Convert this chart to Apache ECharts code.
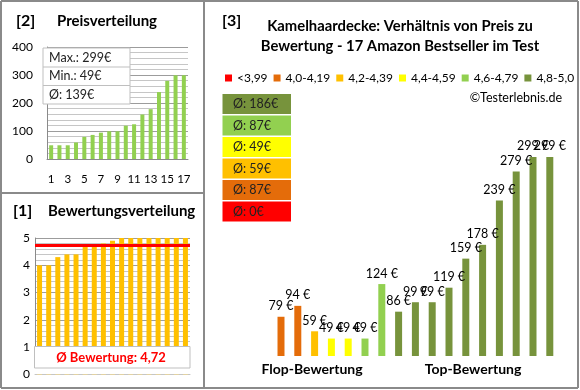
<!DOCTYPE html>
<html><head><meta charset="utf-8">
<script src="https://cdn.jsdelivr.net/npm/echarts@6/dist/echarts.min.js"></script>
<style>html,body{margin:0;padding:0;background:#fff}#c{width:580px;height:390px}</style>
</head><body><div id="c"></div>
<script>
// ---- data ----
const productPrices  = [79, 94, 59, 49, 49, 49, 124, 86, 99, 99, 119, 159, 178, 239, 279, 299, 299];
const productRatings = [4.0, 4.0, 4.3, 4.4, 4.4, 4.7, 4.7, 4.8, 4.9, 5.0, 5.0, 5.0, 5.0, 5.0, 5.0, 5.0, 5.0];
const rankLabels = ['1','2','3','4','5','6','7','8','9','10','11','12','13','14','15','16','17'];
const classLabels = ['<3,99', '4,0-4,19', '4,2-4,39', '4,4-4,59', '4,6-4,79', '4,8-5,0'];
const classThresholds = [4.0, 4.2, 4.4, 4.6, 4.8];
const classColors = ['#FF0000', '#E46C0A', '#FFC000', '#FFFF00', '#92D050', '#77933C'];
const priceTicks = [0, 100, 200, 300, 400];
const ratingTicks = [0, 1, 2, 3, 4, 5];

// ---- derived ----
const FONT = 'Lato, "Noto Sans", sans-serif';
const sortedPrices = productPrices.slice().sort((a, b) => a - b);
const sortedRatings = productRatings.slice().sort((a, b) => a - b);
const classOf = r => { let c = 0; classThresholds.forEach(t => { if (r >= t) c++; }); return c; };
const productClass = productRatings.map(classOf);
const mean = a => a.reduce((s, v) => s + v, 0) / a.length;
const priceMax = Math.max(...productPrices), priceMin = Math.min(...productPrices);
const priceAvg = Math.round(mean(productPrices));
const ratingAvg = mean(productRatings);
const classAvg = classLabels.map((_, ci) => {
  const v = productPrices.filter((p, i) => productClass[i] === ci);
  return v.length ? Math.round(mean(v)) : 0;
});

const gray = '#8a8a8a';
const chart = echarts.init(document.getElementById('c'), null, {renderer: 'canvas'});

const txt = (x, y, text, opts) => Object.assign({
  type: 'text', x: x, y: y, z: 100,
  style: Object.assign({text: text, font: '12px ' + FONT, fill: '#000', align: 'left', verticalAlign: 'middle'}, opts || {})
});
const rect = (x, y, w, h, fill, stroke) => ({
  type: 'rect', z: 99, shape: {x: x, y: y, width: w, height: h},
  style: {fill: fill, stroke: stroke || null, lineWidth: stroke ? 1 : 0}
});
const line = (x1, y1, x2, y2, color, w) => ({
  type: 'line', z: 101, shape: {x1: x1, y1: y1, x2: x2, y2: y2},
  style: {stroke: color || gray, lineWidth: w || 2}
});

const graphics = [];
// panel borders
graphics.push(line(1, 1, 578, 1), line(1, 388, 578, 388), line(1, 1, 1, 388), line(578, 1, 578, 388));
graphics.push(line(204, 1, 204, 388), line(1, 193, 204, 193));
// titles
graphics.push(txt(16, 21, '[2]', {font: 'bold 16px ' + FONT}));
graphics.push(txt(57, 21, 'Preisverteilung', {font: 'bold 15px ' + FONT}));
graphics.push(txt(13, 211, '[1]', {font: 'bold 16px ' + FONT}));
graphics.push(txt(48, 211, 'Bewertungsverteilung', {font: 'bold 15px ' + FONT}));
graphics.push(txt(222, 21, '[3]', {font: 'bold 16px ' + FONT}));
graphics.push(txt(400, 26, 'Kamelhaardecke: Verhältnis von Preis zu', {font: 'bold 14.8px ' + FONT, align: 'center'}));
graphics.push(txt(400, 46, 'Bewertung - 17 Amazon Bestseller im Test', {font: 'bold 14.8px ' + FONT, align: 'center'}));
graphics.push(txt(562, 98, '©Testerlebnis.de', {align: 'right', font: '12.5px ' + FONT}));
graphics.push(txt(312, 369, 'Flop-Bewertung', {font: 'bold 14px ' + FONT, align: 'center'}));
graphics.push(txt(473, 369, 'Top-Bewertung', {font: 'bold 14px ' + FONT, align: 'center'}));
// price info box
graphics.push(rect(43, 48, 87, 56, '#fff', '#bfbfbf'));
graphics.push(line(43, 67, 130, 67, '#bfbfbf', 1), line(43, 85.5, 130, 85.5, '#bfbfbf', 1));
graphics.push(txt(49, 58, 'Max.: ' + priceMax + '€', {fill: '#222', font: '12.5px ' + FONT}));
graphics.push(txt(49, 76, 'Min.: ' + priceMin + '€', {fill: '#222', font: '12.5px ' + FONT}));
graphics.push(txt(49, 95, 'Ø: ' + priceAvg + '€', {fill: '#222', font: '12.5px ' + FONT}));
// rating avg box
graphics.push(rect(34, 346.5, 160, 28, '#fff', null));
graphics.push(rect(34.5, 346.5, 155.5, 21.5, '#fff', '#bfbfbf'));
graphics.push(txt(111, 357.5, 'Ø Bewertung: ' + ratingAvg.toFixed(2).replace('.', ','), {font: 'bold 13px ' + FONT, fill: '#FF0000', align: 'center'}));
// class average boxes (top: best class)
for (let k = 0; k < classLabels.length; k++) {
  const ci = classLabels.length - 1 - k;
  const y = 94 + k * 21.5;
  graphics.push(rect(222.5, y, 68.5, 20, classColors[ci], null));
  graphics.push(txt(233, y + 10, 'Ø: ' + classAvg[ci] + '€', {fill: '#222', font: '12.5px ' + FONT}));
}

const axisText = {fontFamily: FONT, fontSize: 11.5, color: '#000'};

const classSeries = classLabels.map((name, ci) => ({
  name: name, type: 'bar', xAxisIndex: 2, yAxisIndex: 2, stack: 'prices', barWidth: 7,
  itemStyle: {color: classColors[ci]},
  data: productPrices.map((p, i) => productClass[i] === ci ? p : '-'),
  label: {show: true, position: 'top', distance: 4, formatter: '{c} €', fontFamily: FONT, fontSize: 12.5, color: '#000'},
  silent: true
}));

chart.setOption({
  animation: false,
  textStyle: {fontFamily: FONT},
  legend: {
    data: classLabels, left: 225, top: 72, width: 400, padding: 0, icon: 'rect', itemWidth: 7, itemHeight: 7, itemGap: 6,
    textStyle: {fontFamily: FONT, fontSize: 12, color: '#000'}, selectedMode: false
  },
  grid: [
    {left: 47, top: 47, width: 141, height: 112},
    {left: 35, top: 238, width: 155, height: 136.5},
    {left: 272.6, top: 138, width: 285.6, height: 218}
  ],
  xAxis: [
    {gridIndex: 0, type: 'category', data: rankLabels, axisLine: {lineStyle: {color: gray}}, axisTick: {show: false},
     axisLabel: Object.assign({interval: 1, margin: 14}, axisText)},
    {gridIndex: 1, type: 'category', data: rankLabels, axisLine: {lineStyle: {color: gray}}, axisTick: {show: false},
     axisLabel: {show: false}},
    {gridIndex: 2, type: 'category', data: rankLabels, show: false}
  ],
  yAxis: [
    {gridIndex: 0, type: 'value', min: priceTicks[0], max: priceTicks[priceTicks.length - 1], interval: 100,
     axisLine: {show: true, lineStyle: {color: gray}}, axisTick: {show: false},
     axisLabel: Object.assign({margin: 14}, axisText, {fontSize: 12}),
     splitLine: {lineStyle: {color: '#9c9c9c'}},
     minorTick: {show: false, splitNumber: 5}, minorSplitLine: {show: true, lineStyle: {color: '#c6c6c6'}}},
    {gridIndex: 1, type: 'value', min: ratingTicks[0], max: ratingTicks[ratingTicks.length - 1], interval: 1,
     axisLine: {show: true, lineStyle: {color: gray}}, axisTick: {show: false},
     axisLabel: Object.assign({margin: 5}, axisText, {fontSize: 12}),
     splitLine: {lineStyle: {color: '#9c9c9c'}},
     minorTick: {show: false, splitNumber: 5}, minorSplitLine: {show: true, lineStyle: {color: '#c6c6c6'}}},
    {gridIndex: 2, type: 'value', min: 25, max: 325, show: false}
  ],
  series: [
    {type: 'bar', xAxisIndex: 0, yAxisIndex: 0, data: sortedPrices, barWidth: 4, itemStyle: {color: '#92D050'}, silent: true},
    {type: 'bar', xAxisIndex: 1, yAxisIndex: 1, data: sortedRatings, barWidth: 5, itemStyle: {color: '#FFC000'}, silent: true,
     markLine: {silent: true, symbol: 'none', label: {show: false}, lineStyle: {color: '#FF0000', width: 3, type: 'solid'},
                data: [{type: 'average'}]}}
  ].concat(classSeries),
  graphic: {elements: graphics}
});
</script></body></html>
